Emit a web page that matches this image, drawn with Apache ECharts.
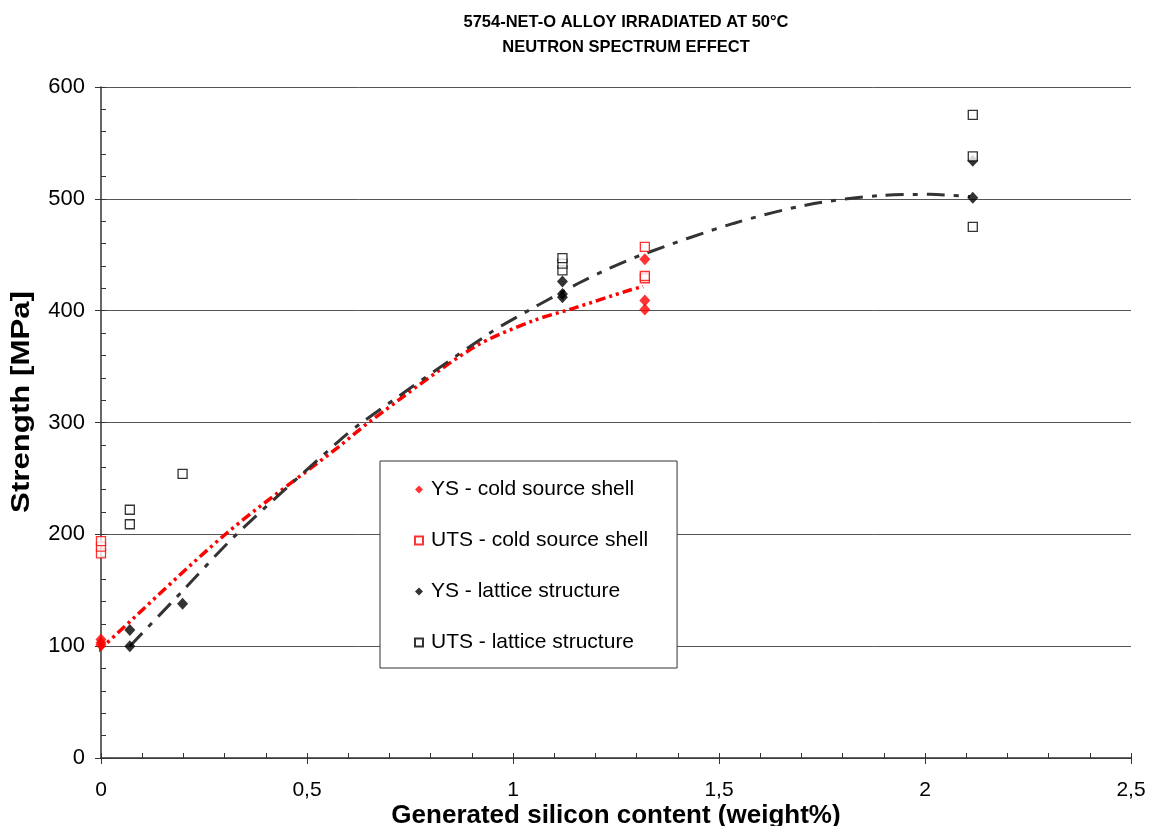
<!DOCTYPE html>
<html>
<head>
<meta charset="utf-8">
<script src="https://cdn.jsdelivr.net/npm/echarts@6/dist/echarts.min.js"></script>
<style>
  html, body { margin: 0; padding: 0; background: #fff; }
  #chart { width: 1149px; height: 826px; }
</style>
</head>
<body>
<div id="chart"></div>
<script>
// Yield strength (YS) and ultimate tensile strength (UTS), MPa, vs generated Si (wt%)
const ysColdX  = [0, 0, 0, 1.32, 1.32, 1.32];
const ysColdY  = [101, 103, 106, 401, 409, 446];
const utsColdX = [0, 0, 0, 1.32, 1.32, 1.32];
const utsColdY = [183, 189, 194, 429, 431, 457];
const ysLatX   = [0.07, 0.07, 0.198, 1.12, 1.12, 1.12, 2.116, 2.116];
const ysLatY   = [100, 114.5, 138, 426, 415, 412, 534, 501];
const utsLatX  = [0.07, 0.07, 0.198, 1.12, 1.12, 1.12, 2.116, 2.116, 2.116];
const utsLatY  = [209, 222, 254, 436, 442, 447, 475, 538, 575];

// Trend curves (read along the drawn trendlines)
const coldTrendX = [-0.01, 0, 0.305, 0.576, 0.653, 0.904, 1.049, 1.146, 1.284, 1.316];
const coldTrendY = [95, 98, 201, 278, 301, 367, 391, 402, 418.5, 421.5];
const latTrendX  = [0.07, 0.197, 0.329, 0.576, 0.633, 0.944, 1.037, 1.086, 1.159, 1.235, 1.32, 1.535, 1.713, 1.891, 2.012, 2.109];
const latTrendY  = [100, 149, 200, 283, 300, 380, 400, 410, 424.5, 438, 451, 478, 494.5, 503, 504, 502];

const xTicks = ['0', '0,5', '1', '1,5', '2', '2,5'];
const titleLines = ['5754-NET-O ALLOY IRRADIATED AT 50°C', 'NEUTRON SPECTRUM EFFECT'];
const xTitle = 'Generated silicon content (weight%)';
const yTitle = 'Strength [MPa]';
const legendNames = ['YS - cold source shell', 'UTS - cold source shell', 'YS - lattice structure', 'UTS - lattice structure'];

const zip = (xs, ys) => xs.map((x, i) => [x, ys[i]]);
const FONT = '"Liberation Sans", Arial, sans-serif';

const chart = echarts.init(document.getElementById('chart'), null, { renderer: 'canvas' });

chart.setOption({
  animation: false,
  backgroundColor: '#ffffff',
  title: {
    text: titleLines.join('\n'),
    left: 621, top: 5,
    textAlign: 'center',
    textStyle: { fontFamily: FONT, fontSize: 16.5, fontWeight: 'bold', color: '#000', lineHeight: 25 }
  },
  grid: { left: 101, top: 87, right: 18, bottom: 68, containLabel: false, outerBoundsMode: 'none' },
  legend: {
    orient: 'vertical',
    left: 380, top: 461,
    data: legendNames,
    itemWidth: 8, itemHeight: 8, itemGap: 30,
    padding: [18, 29, 15, 34],
    backgroundColor: '#ffffff',
    borderColor: '#333333', borderWidth: 1,
    textStyle: { fontFamily: FONT, fontSize: 21, color: '#000', padding: [0, 0, 0, 3] }
  },
  xAxis: [
    {
      type: 'value', min: 0, max: 2.5, interval: 0.5,
      axisLine: { lineStyle: { color: '#333', width: 1.5 } },
      axisTick: { length: 6, lineStyle: { color: '#333' } },
      axisLabel: {
        margin: 22, fontFamily: FONT, fontSize: 21, color: '#000',
        formatter: v => xTicks[Math.round(v / 0.5)]
      },
      splitLine: { show: false }
    },
    {
      type: 'value', min: 0, max: 2.5, interval: 0.1, position: 'bottom',
      axisLine: { show: false },
      axisTick: { inside: true, length: 5, lineStyle: { color: '#333' } },
      axisLabel: { show: false },
      splitLine: { show: false }
    }
  ],
  yAxis: [
    {
      type: 'value', min: 0, max: 600, interval: 100,
      axisLine: { show: true, lineStyle: { color: '#333', width: 1.5 } },
      axisTick: { show: true, length: 6, lineStyle: { color: '#333' } },
      axisLabel: { margin: 16, fontFamily: FONT, fontSize: 22, color: '#000' },
      splitLine: { show: true, lineStyle: { color: '#555', width: 1 } }
    },
    {
      type: 'value', min: 0, max: 600, interval: 20, position: 'left',
      axisLine: { show: false },
      axisTick: { show: true, inside: true, length: 5, lineStyle: { color: '#333' } },
      axisLabel: { show: false },
      splitLine: { show: false }
    }
  ],
  graphic: [
    {
      type: 'text',
      x: 22, y: 402,
      rotation: Math.PI / 2,
      scaleX: 1.2,
      style: {
        text: yTitle,
        fontFamily: FONT, fontSize: 26, fontWeight: 'bold', fill: '#000',
        textAlign: 'center', textVerticalAlign: 'middle'
      }
    },
    {
      type: 'text',
      x: 616, y: 816,
      style: {
        text: xTitle,
        fontFamily: FONT, fontSize: 26, fontWeight: 'bold', fill: '#000',
        textAlign: 'center', textVerticalAlign: 'middle'
      }
    }
  ],
  series: [
    {
      name: 'cold trend', type: 'line', data: zip(coldTrendX, coldTrendY),
      smooth: 0.3, showSymbol: false, silent: true, z: 2,
      lineStyle: { color: '#ff0000', width: 3.5, type: [10, 4, 3, 4, 3, 4] }
    },
    {
      name: 'lattice trend', type: 'line', data: zip(latTrendX, latTrendY),
      smooth: 0.3, showSymbol: false, silent: true, z: 2,
      lineStyle: { color: '#333333', width: 3, type: [18, 9, 5, 9] }
    },
    {
      name: legendNames[0], type: 'scatter', data: zip(ysColdX, ysColdY),
      symbol: 'diamond', symbolSize: [11, 12], z: 4,
      itemStyle: { color: '#ff0000' }
    },
    {
      name: legendNames[1], type: 'scatter', data: zip(utsColdX, utsColdY),
      symbol: 'rect', symbolSize: 9, z: 4,
      itemStyle: { color: '#ffffff', borderColor: '#ff0000', borderWidth: 1.3 }
    },
    {
      name: legendNames[2], type: 'scatter', data: zip(ysLatX, ysLatY),
      symbol: 'diamond', symbolSize: [11, 12], z: 4,
      itemStyle: { color: '#000000' }
    },
    {
      name: legendNames[3], type: 'scatter', data: zip(utsLatX, utsLatY),
      symbol: 'rect', symbolSize: 9, z: 4,
      itemStyle: { color: '#ffffff', borderColor: '#000000', borderWidth: 1.3 }
    }
  ]
});
</script>
</body>
</html>
